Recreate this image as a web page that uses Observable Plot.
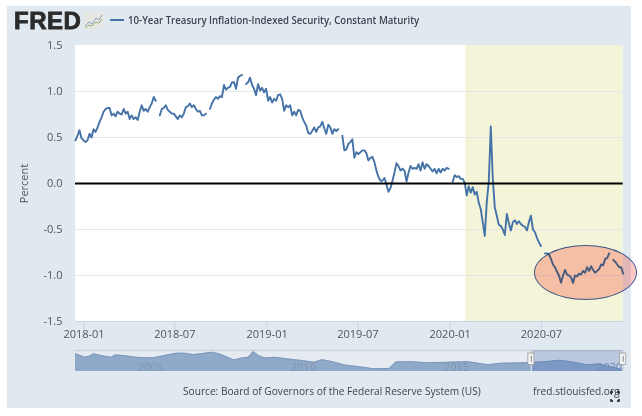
<!DOCTYPE html>
<html><head><meta charset="utf-8">
<script src="https://cdn.jsdelivr.net/npm/d3@7"></script>
<script src="https://cdn.jsdelivr.net/npm/@observablehq/plot@0.6"></script>
<style>
html,body{margin:0;padding:0;background:#fff;width:642px;height:416px;overflow:hidden}
body{position:relative;font-family:"Open Sans",sans-serif}
#panel{position:absolute;left:7px;top:6px;width:624px;height:402px;background:#e0e8f0}
#main,#nav{position:absolute;left:0}
#main{top:0}#nav{top:340px}
#main svg,#nav svg{display:block;background:transparent}
.t{position:absolute;white-space:nowrap;transform-origin:left center}
#logo{left:14px;top:6px;font:900 24px/30px "Liberation Sans",sans-serif;color:#2b2b2b;letter-spacing:.5px;-webkit-text-stroke:.8px #2b2b2b}
#icon{position:absolute;left:84px;top:12px}
#key{position:absolute;left:110px;top:19px;width:14px;height:2px;background:#4572a7}
#title{left:128px;top:11px;font:600 10.8px/18px "Open Sans",sans-serif;color:#3c4650;transform:scaleX(.893)}
#source{left:183px;top:382px;font:400 10.8px/18px "Open Sans",sans-serif;color:#444;transform:scaleX(.94)}
#site{left:533px;top:382px;font:400 10.8px/18px "Open Sans",sans-serif;color:#444;transform:scaleX(.94)}
#expand{position:absolute;left:610px;top:391px}
#ell{position:absolute;left:534px;top:245px;width:101px;height:53px;border:1px solid #3f5a9a;border-radius:50%;background:#ffc8c2;mix-blend-mode:multiply}
</style></head><body>
<div id="panel"></div>
<div id="main"></div>
<div id="nav"></div>
<div class="t" id="logo">FRED</div>
<svg id="icon" width="19" height="17"><rect width="19" height="17" fill="#e6e6e2"/><polyline points="1,14 5,10 8,12 12,6 15,8 18,3" fill="none" stroke="#8aa0b8"/><polyline points="1,16 5,13 8,14 12,10 15,11 18,7" fill="none" stroke="#8fae78"/></svg>
<div id="key"></div>
<div class="t" id="title">10-Year Treasury Inflation-Indexed Security, Constant Maturity</div>
<div class="t" id="source">Source: Board of Governors of the Federal Reserve System (US)</div>
<div class="t" id="site">fred.stlouisfed.org</div>
<svg id="expand" width="10" height="11" fill="none" stroke="#111" stroke-width="1.4"><path d="M1 3V1H3M7 1H9V3M1 8V10H3M7 10H9V8"/></svg>
<div id="ell"></div>
<script>
// One reading every four days, starting at the left edge of the chart. null = gap in the line.
const seriesStart = "2017-12-15";
const stepDays = 4;
const values2018 = [.47,.52,.58,.49,.47,.45,.47,.54,.50,.59,.56,.61,.67,.72,.78,.81,.82,.82,.74,.76,.73,.78,.76,.75,.81,.76,.78,.70,.74,.70,.72,.69,.78,.85,.79,.81,.78,.83,.87,.94,.90,null,.74,.81,.82,.85,.80,.78,.76,.76,.73,.70,.74,.72,.76,.83,.84,.87,.83,.85,.81,.78,.79,.74,.74,.76,null,.81,.87,.91,.94,.92,.95,.94,1.07,1.02,1.04,1.05,1.10,1.10,1.03,1.15,1.17,1.18,null,1.08,1.10,1.15,1.07,1.03,.96,1.08,1.01,1.04,.99,1.03];
const values2019 = [.90,.94,.88,.92,.90,.96,.97,.92,.79,.85,.83,.85,.74,.78,.74,.80,.79,.72,.67,.63,.55,.54,.57,.61,.56,.61,.62,.67,.60,.54,.64,.61,.54,.59,.57,.59,null,.52,.36,.37,.43,.45,.48,.28,.34,.32,.34,.36,.36,.33,.25,.28,.29,.23,.14,.07,.03,.03,.06,-.01,-.09,-.05,.03,.12,.22,.19,.14,.16,.14,.02,.12,.19,.16,.17,.16,.21,.14,.23,.16,.21,.19,.16,.13,.16,.11,.16,.12,.16,.14,.17,.16,null,.02,.09,.07,.08,.05,.05,.01];
const values2020 = [-.13,-.03,-.10,-.04,-.12,-.09,-.21,-.28,-.42,-.57,-.20,.02,.62,.05,-.26,-.35,-.45,-.46,-.50,-.56,-.33,-.43,-.51,-.42,-.40,-.44,-.41,-.44,-.46,-.47,-.51,-.42,-.35,-.50,-.53,-.59,-.64,-.68,null,-.76,-.76,-.77,-.82,-.88,-.91,-.96,-1.00,-1.08,-1.00,-.94,-.99,-1.00,-1.02,-1.08,-1.00,-1.01,-.98,-.99,-.95,-.97,-.91,-.95,-.90,-.94,-.97,-.95,-.93,-.88,-.89,-.82,-.81,-.76,null,-.83,-.85,-.88,-.91,-.91,-.98];
const xDomain = ["2017-12-15", "2020-12-11"];
const tickMonths = ["2018-01-01","2018-07-01","2019-01-01","2019-07-01","2020-01-01","2020-07-01"];
const yTicks = [-1.5,-1,-.5,0,.5,1,1.5];
const gridValues = [-1,-.5,.5,1];
const shadeStart = "2020-02-01";
const navYears = [2002.55,2002.71,2002.84,2002.98,2003.15,2003.38,2003.72,2003.85,2004.12,2004.51,2005.05,2005.46,2005.85,2006.11,2006.39,2006.66,2006.99,2007.25,2007.73,2008.0,2008.2,2008.36,2008.53,2008.73,2009.07,2009.47,2010.0,2010.34,2010.61,2010.95,2011.34,2011.75,2012.29,2012.81,2013.02,2013.49,2014.02,2014.69,2015.36,2016.03,2016.44,2017.24,2017.91,2018.38,2018.85,2019.25,2019.64,2020.05,2020.42];
const navValues = [2.53,2.14,1.75,1.91,2.53,2.14,1.75,2.29,2.14,1.75,1.6,2.14,2.68,2.68,2.37,2.53,2.91,2.53,1.13,1.6,1.75,3.07,2.14,1.6,1.75,1.37,.98,.59,1.21,.75,-.03,-.34,-.88,-.8,.67,.75,.51,.59,.75,.05,.36,.51,.75,1.06,.59,.05,.2,-.42,-1.03];
const navLabels = [2005,2010,2015,2020];
const navWindow = [2017.45,2020.45];

const d = s => new Date(s + "T00:00:00Z");
const allValues = [...values2018, ...values2019, ...values2020];
const series = allValues.map((v, i) => ({date: d3.utcDay.offset(d(seriesStart), i * stepDays), v}));
const textColor = "#555";

const main = Plot.plot({
  width: 642, height: 340,
  marginLeft: 75, marginRight: 19.3, marginTop: 45, marginBottom: 19,
  style: {background: "transparent", fontFamily: '"Open Sans",sans-serif', fontSize: "11px", color: textColor},
  x: {type: "utc", domain: xDomain.map(d)},
  y: {domain: [-1.5, 1.5]},
  marks: [
    Plot.rect([0], {x1: () => d(xDomain[0]), x2: () => d(xDomain[1]), y1: -1.5, y2: 1.5, fill: "#fff"}),
    Plot.rect([0], {x1: () => d(shadeStart), x2: () => d(xDomain[1]), y1: -1.5, y2: 1.5, fill: "#f4f4d9"}),
    Plot.ruleY(gridValues, {stroke: "#e6e6e6", strokeWidth: 1}),
    Plot.ruleY([-1.5], {stroke: "#c8d4e4", strokeWidth: 1}),
    Plot.line(series, {x: "date", y: "v", stroke: "#4572a7", strokeWidth: 1.9, curve: "linear"}),
    Plot.ruleY([0], {stroke: "#000", strokeWidth: 2}),
    Plot.axisX({ticks: tickMonths.map(d), tickFormat: d3.utcFormat("%Y-%m"), tickSize: 8, tickPadding: 1, stroke: "#c8d4e4", color: textColor, label: null}),
    Plot.axisY({ticks: yTicks, tickFormat: v => v.toFixed(1), tickSize: 0, tickPadding: 13, label: "Percent", labelAnchor: "center", labelArrow: "none", labelOffset: 55, color: textColor})
  ]
});
document.getElementById("main").append(main);

const navData = navYears.map((year, i) => ({year, v: navValues[i]}));
const nav = Plot.plot({
  width: 642, height: 40,
  marginLeft: 75, marginRight: 19.3, marginTop: 10, marginBottom: 9,
  style: {background: "transparent", fontFamily: '"Open Sans",sans-serif', fontSize: "11px"},
  x: {domain: [2002.55, 2020.45], axis: null},
  y: {domain: [-1.5, 3.3], axis: null},
  marks: [
    Plot.rect([0], {x1: () => 2002.55, x2: () => 2020.45, y1: -1.5, y2: 3.3, fill: "#e6ebf1"}),
    Plot.areaY(navData, {x: "year", y1: -1.5, y2: "v", fill: "#8fa9c9"}),
    Plot.line(navData, {x: "year", y: "v", stroke: "#7c98bd", strokeWidth: 1}),
    Plot.ruleY([3.3], {stroke: "#d0d4d8", strokeWidth: 1.5}),
    Plot.text(navLabels, {x: d => d, y: -.6, text: d => String(d), fill: "#8295ae", fontSize: 11}),
    Plot.rect([0], {x1: () => navWindow[0], x2: () => navWindow[1], y1: -1.5, y2: 3.3, fill: "#4a6fb5", fillOpacity: .28}),
    Plot.ruleX(navWindow, {y1: -1.5, y2: 3.3, stroke: "#d4d8dc", strokeWidth: 1.5}),
    Plot.rect(navWindow, {x1: d => d - .1, x2: d => d + .1, y1: 0, y2: 2.6, fill: "#f4f4f4", stroke: "#999", strokeWidth: .8}),
    Plot.ruleX(navWindow, {y1: .6, y2: 2, stroke: "#999", strokeWidth: 1.2})
  ]
});
document.getElementById("nav").append(nav);
</script>
</body></html>
